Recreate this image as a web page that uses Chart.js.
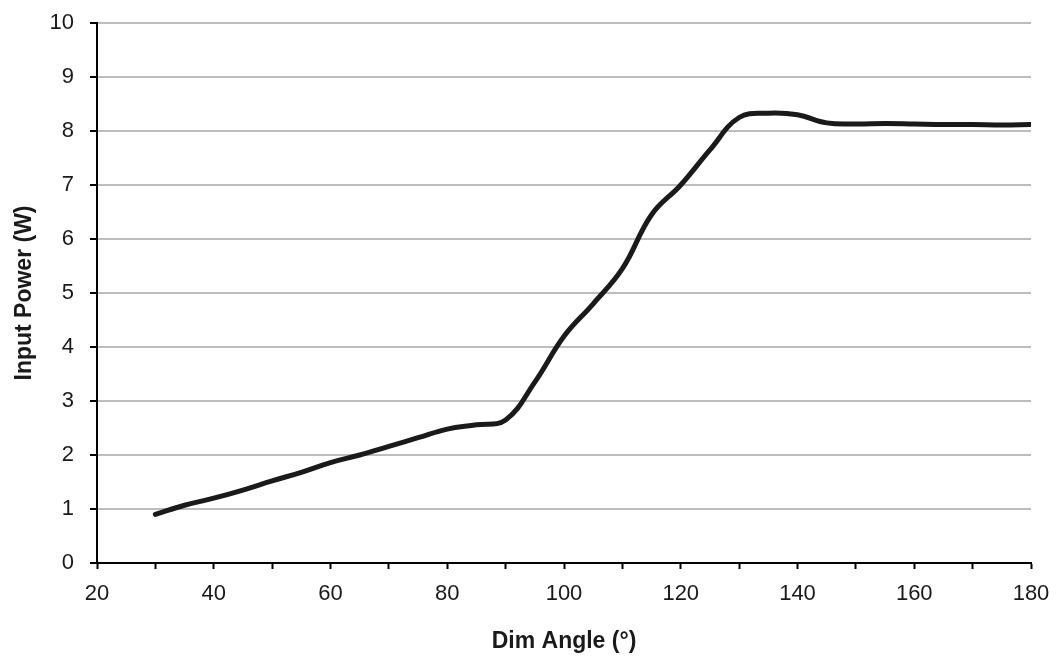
<!DOCTYPE html>
<html>
<head>
<meta charset="utf-8">
<script src="https://cdn.jsdelivr.net/npm/chart.js@4/dist/chart.umd.min.js"></script>
<style>
  html, body { margin: 0; padding: 0; background: #fff; }
  #wrap { width: 1057px; height: 660px; position: relative; }
</style>
</head>
<body>
<div id="wrap"><canvas id="chart"></canvas></div>
<script>
// ===== 数据 =====
var angles = [30, 35, 40, 45, 50, 55, 60, 65, 70, 75, 80, 85, 90, 95, 100, 105,
  110, 115, 120, 125, 130, 135, 140, 145, 150, 155, 160, 165, 170, 175, 180];
var power = [0.9, 1.07, 1.2, 1.35, 1.52, 1.68, 1.86, 2.0, 2.16, 2.32, 2.48, 2.56,
  2.65, 3.35, 4.2, 4.8, 5.45, 6.45, 7.0, 7.65, 8.25, 8.33, 8.3, 8.15, 8.13, 8.14,
  8.13, 8.12, 8.12, 8.11, 8.12];

var xTitle = 'Dim Angle (\u00b0)';
var yTitle = 'Input Power (W)';

var FONT = 'Arial, "Liberation Sans", Helvetica, sans-serif';

var points = angles.map(function(a, i) { return { x: a, y: power[i] }; });

new Chart(document.getElementById('chart'), {
  type: 'line',
  data: {
    datasets: [{
      data: points,
      borderColor: '#1a1a1a',
      borderWidth: 5,
      pointRadius: 0,
      fill: false,
      tension: 0.4,
      borderCapStyle: 'round'
    }]
  },
  options: {
    responsive: true,
    maintainAspectRatio: false,
    animation: false,
    layout: { padding: { top: 23, right: 26, bottom: 0, left: 0 } },
    plugins: { legend: { display: false }, tooltip: { enabled: false } },
    scales: {
      x: {
        type: 'linear',
        min: 20,
        max: 180,
        afterFit: function(s) { s.height = 97; s.paddingLeft = 0; s.paddingRight = 0; },
        border: { color: '#000', width: 2 },
        grid: { drawOnChartArea: false, drawTicks: true, tickLength: 6, tickColor: '#000', tickWidth: 2 },
        ticks: {
          stepSize: 10,
          padding: 12,
          color: '#1a1a1a',
          font: { family: FONT, size: 22 },
          maxRotation: 0,
          autoSkip: false,
          callback: function(v) { return v % 20 === 0 ? String(v) : ''; }
        },
        title: {
          display: true,
          text: xTitle,
          color: '#1a1a1a',
          font: { family: FONT, size: 23, weight: 'bold' },
          padding: { top: 0, bottom: 5 }
        }
      },
      y: {
        min: 0,
        max: 10,
        afterFit: function(s) { s.width = 97; s.paddingTop = 0; s.paddingBottom = 0; },
        border: { color: '#000', width: 2 },
        grid: { color: '#bdbdbd', lineWidth: 2, tickLength: 7, tickColor: '#000', tickWidth: 2 },
        ticks: {
          stepSize: 1,
          padding: 16,
          color: '#1a1a1a',
          font: { family: FONT, size: 22 }
        },
        title: {
          display: true,
          text: yTitle,
          color: '#1a1a1a',
          font: { family: FONT, size: 23, weight: 'bold' },
          padding: { top: 11, bottom: 0 }
        }
      }
    }
  }
});
</script>
</body>
</html>
